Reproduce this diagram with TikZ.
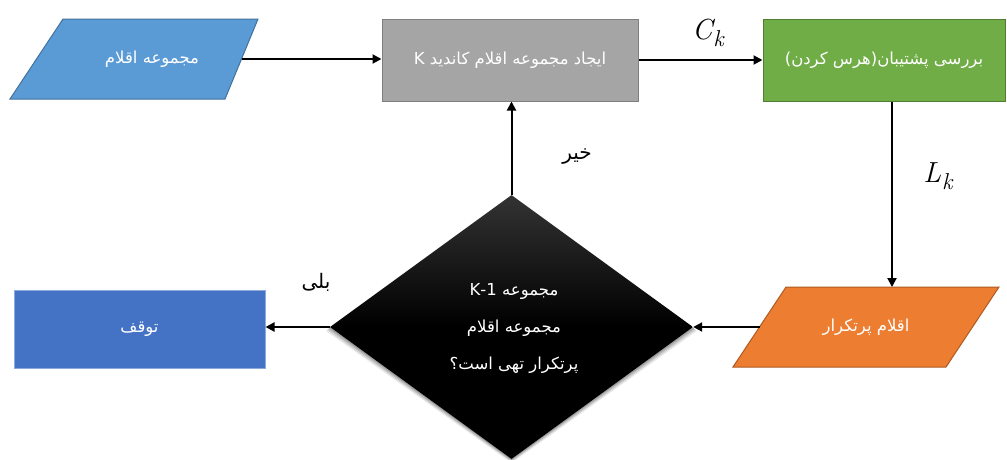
\documentclass[tikz,border=0pt]{standalone}
\usepackage{fontspec}
\usetikzlibrary{shapes.geometric,arrows.meta}
\newfontfamily\arabicfont[Script=Arabic]{DejaVu Sans}
\TeXXeTstate=1
\definecolor{inblue}{HTML}{5B9BD5}
\definecolor{inblueb}{HTML}{41719C}
\definecolor{gbox}{HTML}{A5A5A5}
\definecolor{gboxb}{HTML}{7F7F7F}
\definecolor{grn}{HTML}{70AD47}
\definecolor{grnb}{HTML}{507E32}
\definecolor{org}{HTML}{ED7D31}
\definecolor{orgb}{HTML}{AE5A21}
\definecolor{stp}{HTML}{4472C4}
\definecolor{stpb}{HTML}{8EA9DB}
\newcommand{\bigsub}[2]{{\fontsize{29}{31}\selectfont\itshape #1}\kern1pt\raisebox{-7pt}{\fontsize{23}{25}\selectfont\itshape #2}}
\tikzset{
  boxtext/.style={text=white, inner sep=0pt, font=\arabicfont\fontsize{16.5}{19}\selectfont},
  box/.style={rectangle, draw, line width=1pt, boxtext},
  shapeline/.style={line width=1pt, line join=miter},
  conn/.style={line width=2pt, -{Triangle[length=9pt,width=9pt]}},
  lbl/.style={font=\arabicfont\fontsize{20}{22}\selectfont, text=black},
  mlbl/.style={text=black, inner sep=0pt}
}
\begin{document}
\begin{tikzpicture}[x=1pt,y=-1pt]
\useasboundingbox (0,0) rectangle (1007,459);
% input parallelogram
\filldraw[shapeline, fill=inblue, draw=inblueb] (63,19) -- (258,19) -- (225,99) -- (10,99) -- cycle;
\node[boxtext] (in) at (152,59) {\beginR مجموعه اقلام\endR};
\coordinate (inE) at (241.5,59);
% generate
\node[box, fill=gbox, draw=gboxb, minimum width=256pt, minimum height=82pt] (gen) at (510,60) {\beginR ایجاد مجموعه اقلام کاندید \beginL K\endL\endR};
% prune
\node[box, fill=grn, draw=grnb, minimum width=242pt, minimum height=82pt] (prune) at (884,60) {\beginR بررسی پشتیبان(هرس کردن)\endR};
% frequent items parallelogram
\filldraw[shapeline, fill=org, draw=orgb] (786,287) -- (999,287) -- (946,367) -- (733,367) -- cycle;
\node[boxtext] (freq) at (866,327) {\beginR اقلام پرتکرار\endR};
\coordinate (freqW) at (759.5,327);
\coordinate (freqN) at (892,287);
% decision diamond with soft shadow
\foreach \o/\op in {4/0.08,3/0.1,2/0.12,1/0.15}{
  \fill[black, opacity=\op] (511.5,195+\o) -- (693+\o,327+\o) -- (511.5,459+\o) -- (330-\o,327+\o) -- cycle;
}
\node[diamond, top color=black!80, bottom color=black, middle color=black, draw=none, minimum width=363pt, minimum height=264pt, inner sep=0pt] (dec) at (511.5,327) {};
\node[text=white, align=center, font=\arabicfont\fontsize{16.5}{37}\selectfont] (dectext) at (514,328)
  {\beginR مجموعه \beginL K-1\endL\endR\\\beginR مجموعه اقلام\endR\\\beginR پرتکرار تهی است؟\endR};
% stop
\node[box, fill=stp, draw=stpb, minimum width=251pt, minimum height=78pt] (stop) at (139.5,329) {\beginR توقف\endR};
% connectors
\draw[conn] (inE) -- (inE -| gen.west);
\draw[conn] (gen.east) -- (prune.west);
\node[mlbl] (ck) at (708,33) {\bigsub{C}{k}};
\draw[conn] (freqN |- prune.south) -- (freqN);
\node[mlbl] (lk) at (938,176) {\bigsub{L}{k}};
\draw[conn] (freqW) -- (dec.east);
\draw[conn] (dec.north) -- (dec.north |- gen.south);
\draw[conn] (dec.west) -- (dec.west -| stop.east);
\node[lbl] (no) at (577,157) {\beginR خیر\endR};
\node[lbl] (yes) at (316,282) {\beginR بلی\endR};
\end{tikzpicture}
\end{document}
